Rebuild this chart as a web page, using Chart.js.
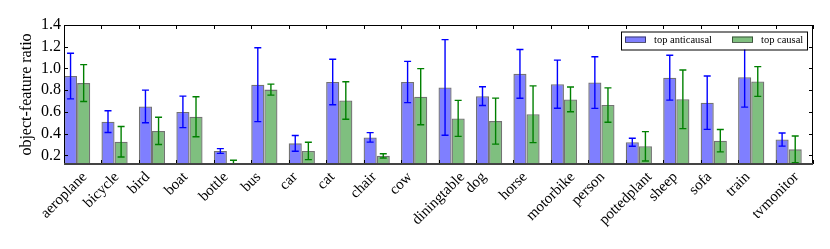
<!DOCTYPE html>
<html>
<head>
<meta charset="utf-8">
<script src="https://cdn.jsdelivr.net/npm/chart.js@4.4.1/dist/chart.umd.min.js"></script>
<style>
  html, body { margin: 0; padding: 0; background: #fff; }
</style>
</head>
<body>
<canvas id="chart" width="830" height="249"></canvas>
<script>
// Data
const categories = ['aeroplane', 'bicycle', 'bird', 'boat', 'bottle', 'bus', 'car', 'cat', 'chair', 'cow',
  'diningtable', 'dog', 'horse', 'motorbike', 'person', 'pottedplant', 'sheep', 'sofa', 'train', 'tvmonitor'];
const antiValues = [0.93, 0.51, 0.65, 0.60, 0.24, 0.85, 0.31, 0.875, 0.365, 0.875, 0.825, 0.745, 0.95, 0.855, 0.87, 0.32, 0.915, 0.685, 0.92, 0.345];
const antiErr = [0.21, 0.10, 0.15, 0.145, 0.022, 0.34, 0.072, 0.21, 0.044, 0.19, 0.44, 0.086, 0.224, 0.222, 0.238, 0.037, 0.207, 0.246, 0.276, 0.06];
const causalValues = [0.865, 0.325, 0.425, 0.555, 0.10, 0.805, 0.24, 0.705, 0.195, 0.74, 0.54, 0.515, 0.578, 0.715, 0.663, 0.283, 0.716, 0.335, 0.88, 0.255];
const causalErr = [0.17, 0.14, 0.125, 0.184, 0.055, 0.051, 0.08, 0.173, 0.02, 0.258, 0.166, 0.212, 0.261, 0.114, 0.158, 0.135, 0.27, 0.103, 0.137, 0.123];
const yTickValues = [0.2, 0.4, 0.6, 0.8, 1.0, 1.2, 1.4];
const seriesLabels = ['top anticausal', 'top causal'];

const serif = '"Liberation Serif", "DejaVu Serif", serif';

// error bars, drawn from the y scale
const errorBars = {
  id: 'errorBars',
  afterDatasetsDraw(chart) {
    const ctx = chart.ctx, ys = chart.scales.y, area = chart.chartArea;
    ctx.save();
    ctx.beginPath();
    ctx.rect(area.left, area.top, area.right - area.left, area.bottom - area.top);
    ctx.clip();
    chart.data.datasets.forEach((ds, di) => {
      const meta = chart.getDatasetMeta(di);
      meta.data.forEach((bar, i) => {
        const v = ds.data[i].y, e = ds.errors[i];
        const top = ys.getPixelForValue(v + e), bot = ys.getPixelForValue(v - e);
        ctx.strokeStyle = ds.errorColor;
        ctx.lineWidth = 1.4;
        ctx.beginPath();
        ctx.moveTo(bar.x, top); ctx.lineTo(bar.x, bot);
        ctx.moveTo(bar.x - 3.5, top); ctx.lineTo(bar.x + 3.5, top);
        ctx.moveTo(bar.x - 3.5, bot); ctx.lineTo(bar.x + 3.5, bot);
        ctx.stroke();
      });
    });
    ctx.restore();
  }
};

// frame, inward ticks, rotated category labels and boxed legend
const decorations = {
  id: 'decorations',
  afterDraw(chart) {
    const ctx = chart.ctx, xs = chart.scales.x, ys = chart.scales.y, area = chart.chartArea;
    ctx.save();
    ctx.strokeStyle = '#000';
    ctx.lineWidth = 1;
    ctx.strokeRect(area.left + 0.5, area.top + 0.5, area.right - area.left - 1, area.bottom - area.top);
    ctx.beginPath();
    for (let i = 0; i <= categories.length; i++) {
      const x = Math.round(xs.getPixelForValue(i)) + 0.5;
      ctx.moveTo(x, area.bottom); ctx.lineTo(x, area.bottom - 4);
      ctx.moveTo(x, area.top); ctx.lineTo(x, area.top + 4);
    }
    yTickValues.forEach(v => {
      const y = Math.round(ys.getPixelForValue(v)) + 0.5;
      ctx.moveTo(area.left, y); ctx.lineTo(area.left + 4, y);
      ctx.moveTo(area.right, y); ctx.lineTo(area.right - 4, y);
    });
    ctx.stroke();
    // heavier bottom spine
    ctx.strokeStyle = '#444';
    ctx.lineWidth = 2;
    ctx.beginPath();
    ctx.moveTo(area.left, area.bottom); ctx.lineTo(area.right, area.bottom);
    ctx.stroke();

    // category labels, rotated 45 deg and centred on the tick
    ctx.fillStyle = '#000';
    ctx.font = '15px ' + serif;
    ctx.textAlign = 'center';
    ctx.textBaseline = 'middle';
    categories.forEach((name, i) => {
      const x = xs.getPixelForValue(i);
      const w = ctx.measureText(name).width, h = 12;
      const cy = area.bottom + 6.5 + (w + h) * Math.SQRT1_2 / 2;
      ctx.save();
      ctx.translate(x, cy);
      ctx.rotate(-Math.PI / 4);
      ctx.fillText(name, 0, 0);
      ctx.restore();
    });

    // legend
    const lx = area.right - 192, ly = area.top + 6.5, lw = 186, lh = 18;
    ctx.fillStyle = '#fff';
    ctx.fillRect(lx, ly, lw, lh);
    ctx.strokeStyle = '#000';
    ctx.lineWidth = 1;
    ctx.strokeRect(lx + 0.5, ly + 0.5, lw, lh);
    ctx.font = '10.5px ' + serif;
    ctx.textAlign = 'left';
    const itemX = [lx + 4, lx + 111];
    chart.data.datasets.forEach((ds, di) => {
      const px = itemX[di];
      ctx.fillStyle = ds.backgroundColor;
      ctx.fillRect(px, ly + 5, 21, 6);
      ctx.strokeStyle = ds.borderColor;
      ctx.strokeRect(px + 0.5, ly + 5.5, 20, 5.5);
      ctx.fillStyle = '#000';
      ctx.fillText(ds.label, px + 29, ly + 9);
    });
    ctx.restore();
  }
};

const chart = new Chart(document.getElementById('chart').getContext('2d'), {
  type: 'bar',
  data: {
    datasets: [{
      label: seriesLabels[0],
      data: antiValues.map((v, i) => ({ x: i + 0.35, y: v })),
      errors: antiErr,
      errorColor: '#0000ff',
      backgroundColor: 'rgba(0, 0, 255, 0.5)',
      borderColor: 'rgba(0, 0, 0, 0.55)',
      borderWidth: 1.3,
      categoryPercentage: 0.7,
      barPercentage: 1.0
    }, {
      label: seriesLabels[1],
      data: causalValues.map((v, i) => ({ x: i + 0.35, y: v })),
      errors: causalErr,
      errorColor: '#008000',
      backgroundColor: 'rgba(0, 128, 0, 0.5)',
      borderColor: 'rgba(0, 0, 0, 0.55)',
      borderWidth: 1.3,
      categoryPercentage: 0.7,
      barPercentage: 1.0
    }]
  },
  options: {
    responsive: false,
    animation: false,
    layout: { padding: { left: 17, right: 17, top: 25, bottom: 0 } },
    plugins: { legend: { display: false }, tooltip: { enabled: false } },
    scales: {
      x: {
        type: 'linear',
        min: 0,
        max: categories.length,
        offset: false,
        grid: { display: false, offset: false, drawTicks: false },
        border: { display: false },
        ticks: { display: false },
        afterFit(scale) { scale.height = 85; }
      },
      y: {
        min: 0.12,
        max: 1.4,
        grid: { display: false, drawTicks: false },
        border: { display: false },
        afterBuildTicks(scale) { scale.ticks = yTickValues.map(v => ({ value: v })); },
        ticks: {
          color: '#000',
          padding: 3,
          font: { family: serif, size: 16 },
          callback: v => v.toFixed(1)
        },
        title: {
          display: true,
          text: 'object-feature ratio',
          color: '#000',
          padding: 0,
          font: { family: serif, size: 16 }
        },
        afterFit(scale) { scale.width = 47; }
      }
    }
  },
  plugins: [errorBars, decorations]
});
</script>
</body>
</html>
